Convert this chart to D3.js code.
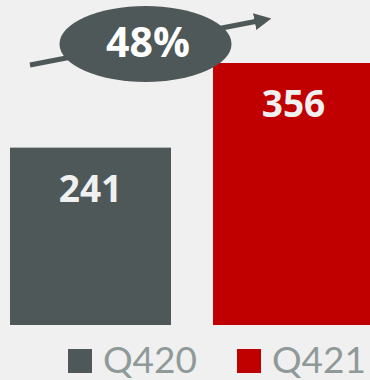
<!DOCTYPE html>
<html>
<head>
<meta charset="utf-8">
<script src="https://cdn.jsdelivr.net/npm/d3@7"></script>
<style>
  html, body { margin: 0; padding: 0; background: #f0f0f0; }
  svg { display: block; }
</style>
</head>
<body>
<div id="viz"></div>
<script>
const width = 370;
const height = 380;

// data
const categories = ["Q420", "Q421"];
const values = [241, 356];
const colors = ["#4f5859", "#c00000"];
const growthLabel = "48%";

const svg = d3.select("#viz")
    .append("svg")
    .attr("width", width)
    .attr("height", height);

svg.append("rect")
    .attr("width", width)
    .attr("height", height)
    .attr("fill", "#f0f0f0");

const xScale = d3.scaleBand()
    .domain(categories)
    .range([10, 374])
    .paddingInner(0.207);

const yScale = d3.scaleLinear()
    .domain([0, 356])
    .range([325, 63]);

const data = categories.map((c, i) => ({cat: c, value: values[i], color: colors[i]}));

// bars
svg.selectAll("rect.bar").data(data)
    .enter().append("rect")
        .attr("class", "bar")
        .attr("x", d => xScale(d.cat))
        .attr("y", d => yScale(d.value))
        .attr("width", xScale.bandwidth())
        .attr("height", d => yScale(0) - yScale(d.value))
        .attr("fill", d => d.color);

svg.selectAll("text.val").data(data)
    .enter().append("text")
        .attr("class", "val")
        .attr("x", d => xScale(d.cat) + xScale.bandwidth() / 2)
        .attr("y", d => yScale(d.value) + 54)
        .attr("text-anchor", "middle")
        .attr("fill", "#f0f0f0")
        .style("font", "bold 37px 'Open Sans', sans-serif")
        .text(d => d.value);

// growth arrow
const defs = svg.append("defs");
defs.append("marker")
    .attr("id", "head")
    .attr("viewBox", "0 0 10 10")
    .attr("refX", 2)
    .attr("refY", 5)
    .attr("markerWidth", 3.4)
    .attr("markerHeight", 3.4)
    .attr("orient", "auto")
    .append("path")
        .attr("d", "M0,0 L10,5 L0,10 Z")
        .attr("fill", "#4f5859");

svg.append("line")
    .attr("x1", 30).attr("y1", 65)
    .attr("x2", 258).attr("y2", 21)
    .attr("stroke", "#4f5859")
    .attr("stroke-width", 5)
    .attr("marker-end", "url(#head)");

svg.append("ellipse")
    .attr("cx", 145.5)
    .attr("cy", 44)
    .attr("rx", 86)
    .attr("ry", 38)
    .attr("fill", "#4f5859");

svg.append("text")
    .attr("x", 148)
    .attr("y", 57)
    .attr("text-anchor", "middle")
    .attr("fill", "#ffffff")
    .style("font", "bold 41px 'Open Sans', sans-serif")
    .text(growthLabel);

// legend
const legendX = [68, 237];
const legend = svg.selectAll("g.leg").data(data)
    .enter().append("g")
        .attr("class", "leg")
        .attr("transform", (d, i) => `translate(${legendX[i]}, 349)`);

legend.append("rect")
    .attr("width", 24)
    .attr("height", 24)
    .attr("fill", d => d.color);

legend.append("text")
    .attr("x", 35)
    .attr("y", 24)
    .attr("fill", "#8f9a98")
    .style("font", "37px Lato, sans-serif")
    .text(d => d.cat);
</script>
</body>
</html>
